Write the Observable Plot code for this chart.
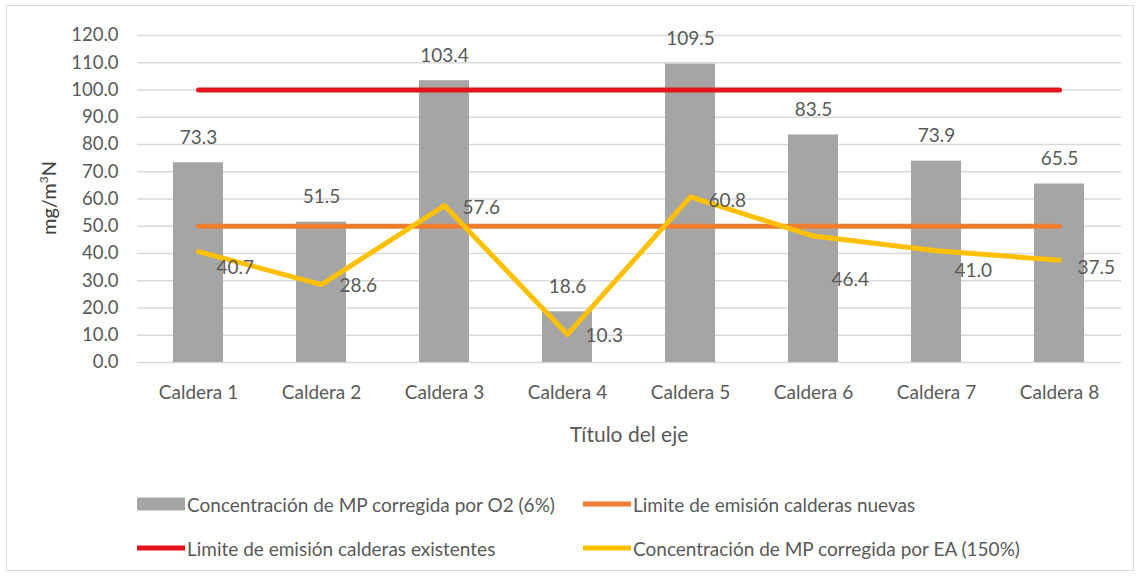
<!DOCTYPE html>
<html>
<head>
<meta charset="utf-8">
<script src="https://cdn.jsdelivr.net/npm/d3@7"></script>
<script src="https://cdn.jsdelivr.net/npm/@observablehq/plot@0.6"></script>
<style>
  html, body { margin: 0; padding: 0; background: #fff; }
  #wrap { position: relative; width: 1142px; height: 577px; overflow: hidden; font-family: Lato, "Open Sans", sans-serif; color: #595959; }
  #frame { position: absolute; left: 6px; top: 5px; width: 1128px; height: 566px; border: 1px solid #d9d9d9; box-sizing: border-box; }
  #chart { position: absolute; left: 0; top: 0; }
  .ytitle { position: absolute; left: 48px; top: 198px; transform: translate(-50%, -50%) rotate(-90deg); font-size: 20px; color: #404040; white-space: nowrap; }
  .xtitle { position: absolute; left: 629px; top: 433px; transform: translate(-50%, -50%); font-size: 21px; color: #595959; white-space: nowrap; }
  .leg { position: absolute; font-size: 19px; white-space: nowrap; display: flex; align-items: center; transform: translateY(-50%); }
  .sw { display: inline-block; width: 48px; margin-right: 2px; }
</style>
</head>
<body>
<div id="wrap">
  <div id="frame"></div>
  <div id="chart"></div>
  <div class="ytitle">mg/m<sup style="font-size:12px">3</sup>N</div>
  <div class="xtitle">Título del eje</div>
  <div id="legend"></div>
</div>
<script>
const categories = ["Caldera 1", "Caldera 2", "Caldera 3", "Caldera 4", "Caldera 5", "Caldera 6", "Caldera 7", "Caldera 8"];
const mpO2 = [73.3, 51.5, 103.4, 18.6, 109.5, 83.5, 73.9, 65.5];
const mpEA = [40.7, 28.6, 57.6, 10.3, 60.8, 46.4, 41.0, 37.5];
const limiteNuevas = [50, 50, 50, 50, 50, 50, 50, 50];
const limiteExistentes = [100, 100, 100, 100, 100, 100, 100, 100];
const yTicks = [0, 10, 20, 30, 40, 50, 60, 70, 80, 90, 100, 110, 120];

const seriesNames = {
  bar: "Concentración de MP corregida por O2 (6%)",
  nuevas: "Limite de emisión calderas nuevas",
  existentes: "Limite de emisión calderas existentes",
  ea: "Concentración de MP corregida por EA (150%)"
};
const colors = { bar: "#a5a5a5", nuevas: "#ed7d31", existentes: "#e3141c", ea: "#ffc000" };

// label placement (style only): vertical pixel nudges for the EA data labels, as placed in the original
const eaLabelNudge = [16, 1, 2, 1, 4, 44, 20, 8];

const rows = categories.map((c, i) => ({
  cat: c, o2: mpO2[i], ea: mpEA[i], nuevas: limiteNuevas[i], existentes: limiteExistentes[i]
}));

const eaLabelMarks = rows.map((r, i) =>
  Plot.text([r], { x: "cat", y: "ea", text: d => d.ea.toFixed(1), dx: 18, dy: eaLabelNudge[i], textAnchor: "start", fill: "#595959", fontSize: 19 })
);

const chart = Plot.plot({
  width: 1142,
  height: 460,
  marginLeft: 137,
  marginRight: 21,
  marginTop: 35,
  marginBottom: 98,
  style: { fontFamily: "Lato, 'Open Sans', sans-serif", fontSize: "19px", color: "#595959", background: "transparent" },
  x: { domain: categories, paddingInner: 0.59, paddingOuter: 0.295, label: null },
  y: { domain: [0, 120], label: null },
  marks: [
    Plot.ruleY(yTicks, { stroke: "#d9d9d9", strokeWidth: 1.3 }),
    Plot.axisY({ ticks: yTicks, tickSize: 0, tickPadding: 19, tickFormat: d => d.toFixed(1), label: null, fill: "#595959", fontSize: 18.5 }),
    Plot.axisX({ tickSize: 0, tickPadding: 23, label: null, fill: "#595959", fontSize: 19 }),
    Plot.barY(rows, { x: "cat", y: "o2", fill: colors.bar }),
    Plot.lineY(rows, { x: "cat", y: "existentes", stroke: colors.existentes, strokeWidth: 5 }),
    Plot.lineY(rows, { x: "cat", y: "nuevas", stroke: colors.nuevas, strokeWidth: 5 }),
    Plot.lineY(rows, { x: "cat", y: "ea", stroke: colors.ea, strokeWidth: 5, curve: "linear" }),
    Plot.text(rows, { x: "cat", y: "o2", text: d => d.o2.toFixed(1), dy: -25, fill: "#595959", fontSize: 19 }),
    ...eaLabelMarks
  ]
});
document.getElementById("chart").appendChild(chart);

const legendItems = [
  { key: "bar", x: 137, y: 504, h: 13 },
  { key: "nuevas", x: 583, y: 504, h: 5 },
  { key: "existentes", x: 137, y: 548, h: 5 },
  { key: "ea", x: 583, y: 548, h: 5 }
];
const legend = document.getElementById("legend");
for (const it of legendItems) {
  const d = document.createElement("div");
  d.className = "leg";
  d.style.left = it.x + "px";
  d.style.top = it.y + "px";
  const sw = document.createElement("span");
  sw.className = "sw";
  sw.style.height = it.h + "px";
  sw.style.background = colors[it.key];
  d.appendChild(sw);
  const t = document.createElement("span");
  t.textContent = seriesNames[it.key];
  d.appendChild(t);
  legend.appendChild(d);
}
</script>
</body>
</html>
